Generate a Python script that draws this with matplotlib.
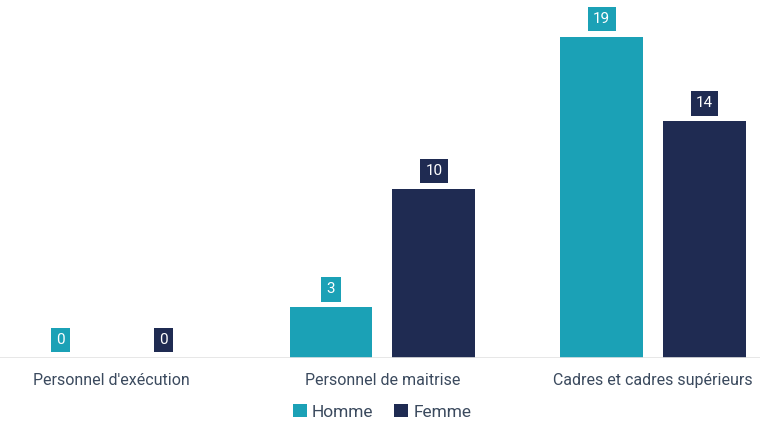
import matplotlib.pyplot as plt
import numpy as np

plt.rcParams['font.family'] = ['Roboto', 'DejaVu Sans']

categories = ["Personnel d'exécution", "Personnel de maitrise", "Cadres et cadres supérieurs"]
homme = [0, 3, 19]
femme = [0, 10, 14]

c_homme = "#1ba1b6"
c_femme = "#1f2b52"
txt = "#3b4a5e"

fig = plt.figure(figsize=(7.6, 4.23), dpi=100)
ax = fig.add_axes([0, 65 / 423, 1, 1 - 65 / 423])

x = np.arange(len(categories))
w = 0.306
off = 0.19
b1 = ax.bar(x - off, homme, w, color=c_homme, label="Homme")
b2 = ax.bar(x + off, femme, w, color=c_femme, label="Femme")

for bars, vals, col in [(b1, homme, c_homme), (b2, femme, c_femme)]:
    for b, v in zip(bars, vals):
        ax.annotate(str(v), (b.get_x() + b.get_width() / 2, v),
                    xytext=(0, 8), textcoords="offset points",
                    ha="center", va="bottom", color="white", fontsize=11,
                    bbox=dict(boxstyle="square,pad=0.35", fc=col, ec="none"))

ax.set_xlim(-0.413, 2.395)
ax.set_ylim(0, 21.19)
ax.axhline(0, color="#e3e3e3", lw=1.2)
for s in ax.spines.values():
    s.set_visible(False)
ax.set_yticks([])
ax.set_xticks(x)
ax.set_xticklabels(categories, fontsize=11.5, color=txt)
ax.tick_params(axis="x", length=0, pad=11)

fig.legend(handles=[b1, b2], loc="center", bbox_to_anchor=(382 / 760, 1 - 412 / 423),
           ncol=2, frameon=False, fontsize=12.5, handlelength=0.8, handleheight=0.8,
           handletextpad=0.3, columnspacing=1.2, labelcolor=txt)

fig.savefig("out.png", dpi=100)
